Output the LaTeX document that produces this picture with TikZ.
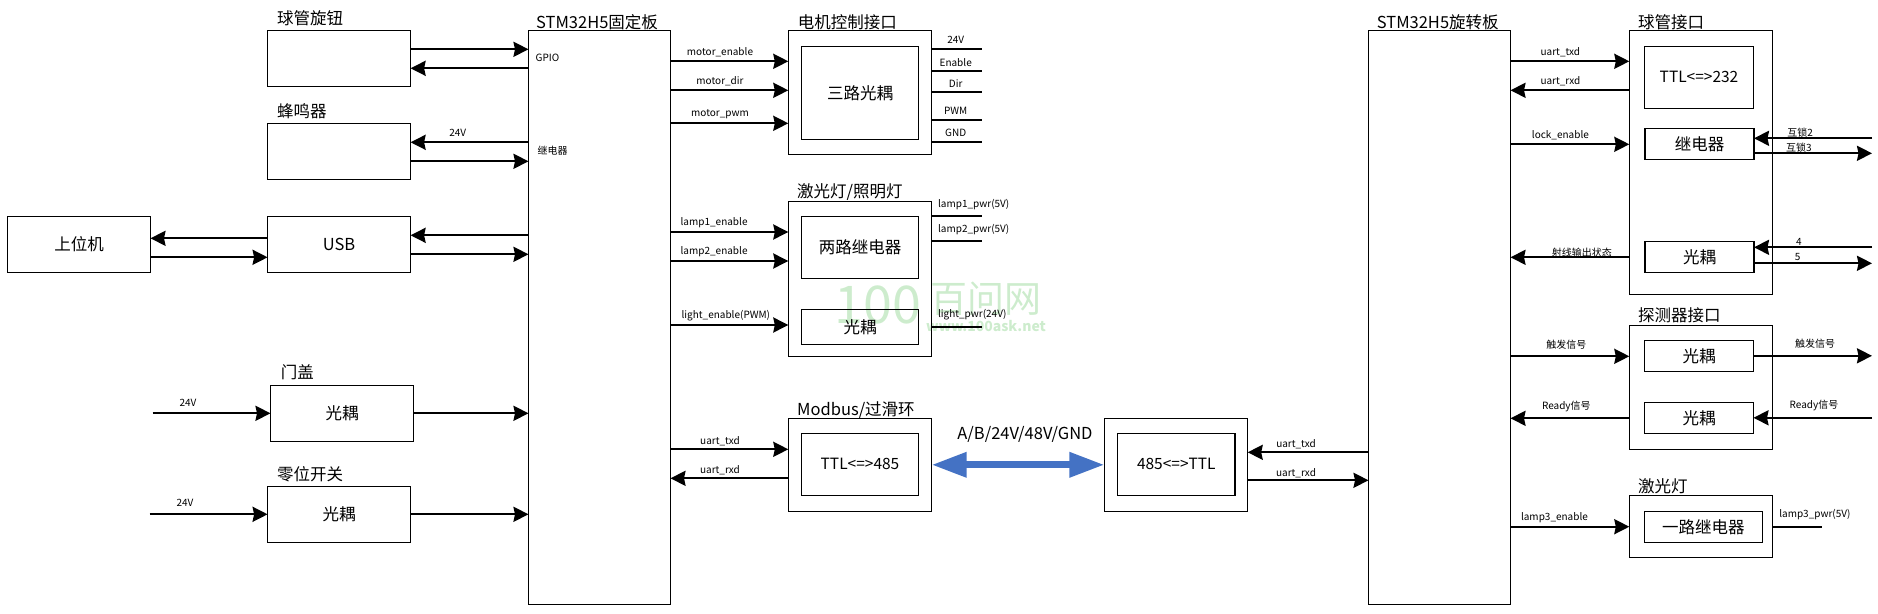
\documentclass[tikz,border=0pt]{standalone}
\usepackage{fontspec}
\setmainfont{Noto Sans CJK SC}
\usetikzlibrary{arrows.meta, positioning}
\definecolor{busblue}{RGB}{68, 114, 196}
\definecolor{markgreen}{RGB}{205, 236, 205}
\newcommand{\bigfont}{\fontsize{16.5}{20}\selectfont}
\newcommand{\tagfont}{\fontsize{10}{12}\selectfont}
\tikzset{
    unit/.style = {draw, line width=1.1pt, inner sep=0pt, outer sep=0pt, font=\bigfont},
    device/.style = {unit, minimum width=143pt, minimum height=56pt},
    board/.style = {unit, minimum width=142pt, minimum height=574pt},
    outerbox/.style = {unit, minimum width=143.4pt},
    innerbox/.style = {unit, minimum width=117.4pt},
    portbox/.style = {unit, minimum width=109pt, minimum height=31pt},
    ttl/.style = {font=\fontsize{15.5}{20}\selectfont},
    title/.style = {font=\bigfont, inner sep=0pt, anchor=west},
    note/.style = {font=\tagfont, inner sep=0pt},
    tag/.style = {note, yshift=#1-1pt},
    tag/.default = 10pt,
    sig/.style = {line width=2.3pt, black, -{Stealth[length=15pt, width=15pt, inset=1.5pt]}},
    stub/.style = {line width=2.3pt, black},
    bus/.style = {line width=6.7pt, busblue, {Triangle[length=35pt, width=24pt]}-{Triangle[length=35pt, width=24pt]}},
    wmark/.style = {markgreen, inner sep=0pt}
}

\begin{document}
\begin{tikzpicture}[x=1pt, y=-1pt]
  \useasboundingbox (0,0) rectangle (1878,613);

  % watermark
  \node[wmark, font=\fontsize{52}{52}\selectfont] (wm100) at (878,305) {100};
  \node[wmark, font=\fontsize{37}{37}\selectfont] (wmcn) at (986,299) {百问网};
  \node[wmark, font=\fontsize{14}{14}\selectfont\bfseries] (wmurl) at (986,326) {www.100ask.net};

  % left column
  \node[device] (knob) at (339.1,58.3) {};
  \node[device] (buzzer) at (339.1,151.3) {};
  \node[device] (usb) at (339.1,244.3) {USB};
  \node[device] (pc) at (79,244.3) {上位机};
  \node[device] (door) at (342,413.3) {光耦};
  \node[device] (zero) at (339.1,514.3) {光耦};
  \node[title] (knobT) at (277,18) {球管旋钮};
  \node[title] (buzzerT) at (277,111) {蜂鸣器};
  \node[title] (doorT) at (280.6,372) {门盖};
  \node[title] (zeroT) at (277,474) {零位开关};
  \coordinate (doorin) at (152.6,0);
  \coordinate (zeroin) at (149.6,0);

  % boards
  \node[board] (fixed) at (599.5,317.3) {};
  \node[board] (rotary) at (1439.5,317.3) {};
  \node[title] (fixedT) at (536,22) {STM32H5固定板};
  \node[title] (rotaryT) at (1376.7,22) {STM32H5旋转板};
  \node[note] (gpio) at (547.5,58) {GPIO};
  \node[note] (relaypin) at (552.5,151) {继电器};

  % middle column
  \node[outerbox, minimum height=124pt] (motor) at (860,92.3) {};
  \node[innerbox, minimum height=93pt] (motoropto) at (860,92.8) {三路光耦};
  \node[title] (motorT) at (797.7,22) {电机控制接口};
  \node[outerbox, minimum height=155pt] (lamp) at (860,278.8) {};
  \node[innerbox, minimum height=62pt] (lamprelay) at (860,247.3) {两路继电器};
  \node[innerbox, minimum height=35pt] (lampopto) at (860,326.8) {光耦};
  \node[title] (lampT) at (797,192) {激光灯/照明灯};
  \node[outerbox, minimum height=93pt] (modbus) at (860,464.8) {};
  \node[innerbox, ttl, minimum height=62pt] (modbusttl) at (860,464.3) {TTL<=>485};
  \node[title] (modbusT) at (797,410) {Modbus/过滑环};
  \node[outerbox, minimum height=93pt] (slip) at (1176,464.8) {};
  \node[innerbox, ttl, minimum height=62pt] (slipttl) at (1176.3,464.3) {485<=>TTL};
  \coordinate (motorout) at (981.7,0);
  \draw[bus] (modbus.east) -- node[font=\bigfont, black, inner sep=0pt, xshift=7pt, yshift=30.5pt] (busT) {A/B/24V/48V/GND} (slip.west);

  % right column
  \node[outerbox, minimum height=264pt] (tube) at (1701,162.3) {};
  \node[unit, ttl, minimum width=109.4pt, minimum height=62pt] (tubettl) at (1699,77.3) {TTL<=>232};
  \node[portbox] (tuberelay) at (1699.5,143.8) {继电器};
  \node[portbox] (tubeopto) at (1699.5,256.8) {光耦};
  \node[title] (tubeT) at (1638,22) {球管接口};
  \node[outerbox, minimum height=124pt] (det) at (1701,387.3) {};
  \node[portbox] (detup) at (1699,355.8) {光耦};
  \node[portbox] (detdown) at (1699,417.8) {光耦};
  \node[title] (detT) at (1638,315.7) {探测器接口};
  \node[outerbox, minimum height=62pt] (laser) at (1701,526.3) {};
  \node[unit, minimum width=118pt, minimum height=31pt] (laserrelay) at (1703.3,526.8) {一路继电器};
  \node[title] (laserT) at (1638,486) {激光灯};
  \coordinate (tubeout) at (1872,0);
  \coordinate (laserout) at (1822.3,0);

  % left side signals
  \draw[sig] (knob.east |- 0,49.3) -- (fixed.west |- 0,49.3);
  \draw[sig] (fixed.west |- 0,68.3) -- (knob.east |- 0,68.3);
  \draw[sig] (fixed.west |- 0,142.3) -- node[tag, pos=.6] (buzzer24) {24V} (buzzer.east |- 0,142.3);
  \draw[sig] (buzzer.east |- 0,161.3) -- (fixed.west |- 0,161.3);
  \draw[sig] (fixed.west |- 0,235.3) -- (usb.east |- 0,235.3);
  \draw[sig] (usb.east |- 0,254.3) -- (fixed.west |- 0,254.3);
  \draw[sig] (usb.west |- 0,238.3) -- (pc.east |- 0,238.3);
  \draw[sig] (pc.east |- 0,257.3) -- (usb.west |- 0,257.3);
  \draw[sig] (doorin |- door.west) -- node[tag=11pt, pos=.3] (door24) {24V} (door.west);
  \draw[sig] (door.east) -- (fixed.west |- door.east);
  \draw[sig] (zeroin |- zero.west) -- node[tag=12pt, pos=.3] (zero24) {24V} (zero.west);
  \draw[sig] (zero.east) -- (fixed.west |- zero.east);

  % fixed board outputs
  \draw[sig] (fixed.east |- 0,61.3) -- node[tag, pos=.42] (menable) {motor\_enable} (motor.west |- 0,61.3);
  \draw[sig] (fixed.east |- 0,90.3) -- node[tag, pos=.42] (mdir) {motor\_dir} (motor.west |- 0,90.3);
  \draw[sig] (fixed.east |- 0,123.3) -- node[tag, pos=.42] (mpwm) {motor\_pwm} (motor.west |- 0,123.3);
  \draw[sig] (fixed.east |- 0,232) -- node[tag, pos=.37] (l1enable) {lamp1\_enable} (lamp.west |- 0,232);
  \draw[sig] (fixed.east |- 0,261) -- node[tag, pos=.37] (l2enable) {lamp2\_enable} (lamp.west |- 0,261);
  \draw[sig] (fixed.east |- 0,325) -- node[tag, pos=.47] (lightenable) {light\_enable(PWM)} (lamp.west |- 0,325);
  \draw[sig] (fixed.east |- 0,449.3) -- node[tag=9pt, pos=.42] (mtxd) {uart\_txd} (modbus.west |- 0,449.3);
  \draw[sig] (modbus.west |- 0,478.3) -- node[tag=9pt, pos=.58] (mrxd) {uart\_rxd} (fixed.east |- 0,478.3);

  % motor and lamp pins
  \draw[stub] (motor.east |- 0,49.3) -- node[tag, pos=.48] (p24) {24V} (motorout |- 0,49.3);
  \draw[stub] (motor.east |- 0,71.3) -- node[tag, pos=.48] (penable) {Enable} (motorout |- 0,71.3);
  \draw[stub] (motor.east |- 0,92.3) -- node[tag, pos=.48] (pdir) {Dir} (motorout |- 0,92.3);
  \draw[stub] (motor.east |- 0,120.3) -- node[tag, pos=.48] (ppwm) {PWM} (motorout |- 0,120.3);
  \draw[stub] (motor.east |- 0,142.3) -- node[tag, pos=.48] (pgnd) {GND} (motorout |- 0,142.3);
  \draw[stub] (lamp.east |- 0,216.3) -- node[tag=12.6pt, pos=.84] (l1pwr) {lamp1\_pwr(5V)} (motorout |- 0,216.3);
  \draw[stub] (lamp.east |- 0,241.3) -- node[tag=13pt, pos=.84] (l2pwr) {lamp2\_pwr(5V)} (motorout |- 0,241.3);
  \draw[stub] (lamp.east |- 0,326.7) -- node[tag=13.4pt, pos=.81] (lightpwr) {light\_pwr(24V)} (motorout |- 0,326.7);

  % rotary board signals
  \draw[sig] (rotary.west |- 0,452.3) -- node[tag=9pt, pos=.6] (stxd) {uart\_txd} (slip.east |- 0,452.3);
  \draw[sig] (slip.east |- 0,480.3) -- node[tag=8pt, pos=.4] (srxd) {uart\_rxd} (rotary.west |- 0,480.3);
  \draw[sig] (rotary.east |- 0,61.3) -- node[tag, pos=.42] (ttxd) {uart\_txd} (tube.west |- 0,61.3);
  \draw[sig] (tube.west |- 0,90.3) -- node[tag, pos=.58] (trxd) {uart\_rxd} (rotary.east |- 0,90.3);
  \draw[sig] (rotary.east |- 0,144.3) -- node[tag, pos=.42] (lockenable) {lock\_enable} (tube.west |- 0,144.3);
  \draw[sig] (tube.west |- 0,257.3) -- node[tag=5.6pt, pos=.4] (xraystate) {射线输出状态} (rotary.east |- 0,257.3);
  \draw[sig] (rotary.east |- 0,356.3) -- node[tag=13pt, pos=.47] (trigin) {触发信号} (det.west |- 0,356.3);
  \draw[sig] (det.west |- 0,418.3) -- node[tag=13pt, pos=.53] (readyin) {Ready信号} (rotary.east |- 0,418.3);
  \draw[sig] (rotary.east |- 0,526.7) -- node[tag, pos=.37] (l3enable) {lamp3\_enable} (laser.west |- 0,526.7);

  % tube and detector pins
  \draw[sig] (tubeout |- 0,138.3) -- node[tag=6.6pt, pos=.61] (lock2) {互锁2} (tuberelay.east |- 0,138.3);
  \draw[sig] (tuberelay.east |- 0,153.3) -- node[tag=6.3pt, pos=.38] (lock3) {互锁3} (tubeout |- 0,153.3);
  \draw[sig] (tubeout |- 0,247.3) -- node[tag=6pt, pos=.62] (pin4) {4} (tubeopto.east |- 0,247.3);
  \draw[sig] (tubeopto.east |- 0,263.3) -- node[tag=7pt, pos=.37] (pin5) {5} (tubeout |- 0,263.3);
  \draw[sig] (detup.east) -- node[tag=13pt, pos=.52] (trigout) {触发信号} (tubeout |- detup.east);
  \draw[sig] (tubeout |- detdown.east) -- node[tag=13pt, pos=.49] (readyout) {Ready信号} (detdown.east);
  \draw[stub] (laser.east |- 0,526.7) -- node[tag=13pt, pos=.85] (l3pwr) {lamp3\_pwr(5V)} (laserout |- 0,526.7);
\end{tikzpicture}
\end{document}
